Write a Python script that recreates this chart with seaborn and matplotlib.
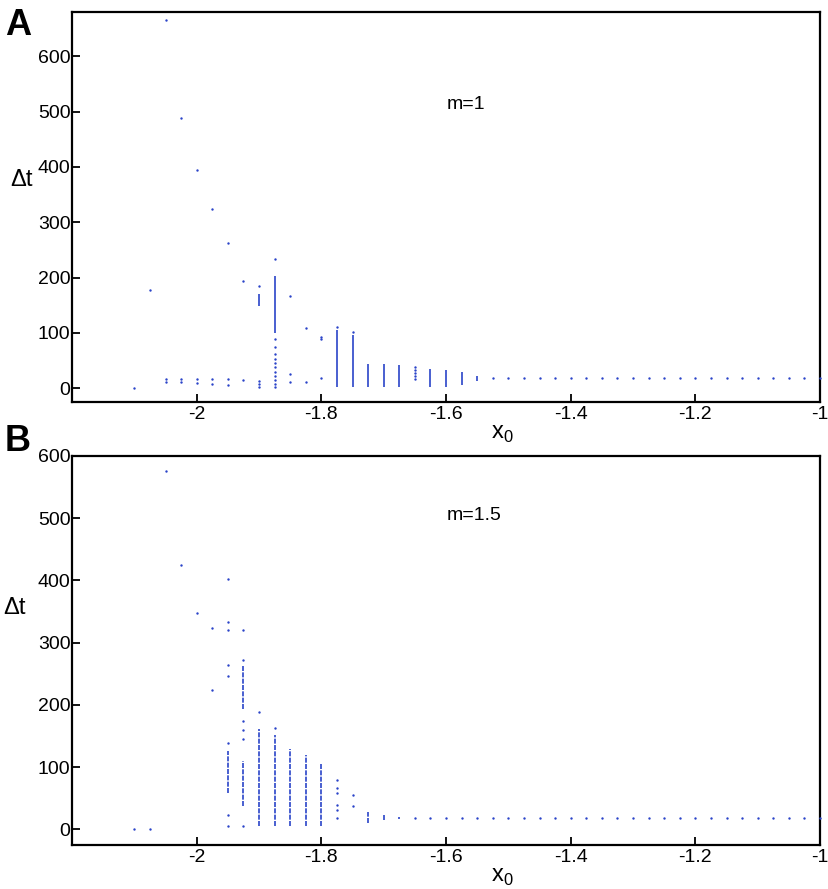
import numpy as np
import pandas as pd
import matplotlib
matplotlib.use("Agg")
import matplotlib.pyplot as plt
import seaborn as sns

# ---- panel A (m=1) ----
# isolated points
a_px = [-2.1, -2.075,
        -2.05, -2.05, -2.05,
        -2.025, -2.025, -2.025,
        -2.0, -2.0, -2.0,
        -1.975, -1.975, -1.975,
        -1.95, -1.95, -1.95,
        -1.925, -1.925,
        -1.9, -1.9, -1.9, -1.9,
        -1.875, -1.875, -1.875, -1.875, -1.875, -1.875, -1.875, -1.875, -1.875, -1.875, -1.875, -1.875,
        -1.85, -1.85, -1.85,
        -1.825, -1.825,
        -1.8, -1.8, -1.8,
        -1.775, -1.75,
        -1.65, -1.65, -1.65, -1.65, -1.65]
a_py = [0, 178,
        665, 17, 12,
        489, 17, 11,
        395, 17, 10,
        323, 16, 8,
        263, 17, 5,
        194, 15,
        185, 13, 8, 3,
        233, 88, 75, 61, 52, 45, 38, 30, 22, 15, 8, 3,
        166, 26, 12,
        109, 12,
        92, 88, 18,
        110, 101,
        38, 33, 28, 22, 17]
# dense columns (many points) given as ranges
a_seg_x = [-1.9, -1.875, -1.775, -1.75, -1.725, -1.7, -1.675, -1.625, -1.6, -1.575, -1.55]
a_seg_lo = [148, 100, 3, 3, 3, 3, 3, 3, 3, 5, 13]
a_seg_hi = [170, 202, 105, 97, 44, 43, 41, 35, 32, 30, 22]

# flat tail
a_tail_x = [-1.525, -1.5, -1.475, -1.45, -1.425, -1.4, -1.375, -1.35, -1.325, -1.3, -1.275,
            -1.25, -1.225, -1.2, -1.175, -1.15, -1.125, -1.1, -1.075, -1.05, -1.025, -1.0]
a_tail_y = [18, 18, 18, 18, 18, 18, 18, 18, 18, 18, 18,
            18, 18, 18, 18, 18, 18, 18, 18, 18, 18, 18]

# ---- panel B (m=1.5) ----
b_px = [-2.1, -2.075, -2.05, -2.025, -2.0,
        -1.975, -1.975,
        -1.95, -1.95, -1.95, -1.95, -1.95, -1.95, -1.95, -1.95,
        -1.925, -1.925, -1.925, -1.925, -1.925, -1.925,
        -1.9, -1.875,
        -1.775, -1.775, -1.775, -1.775, -1.775, -1.775,
        -1.75, -1.75]
b_py = [0, 0, 576, 425, 348,
        324, 224,
        403, 333, 320, 265, 247, 139, 24, 5,
        320, 273, 174, 159, 145, 6,
        188, 163,
        80, 66, 58, 39, 32, 18,
        56, 37]
b_seg_x = [-1.95, -1.925, -1.925, -1.9, -1.875, -1.85, -1.825, -1.8, -1.725, -1.7, -1.675]
b_seg_lo = [59, 193, 37, 5, 5, 5, 5, 5, 10, 15, 16]
b_seg_hi = [126, 262, 110, 161, 151, 130, 120, 107, 28, 24, 20]

b_tail_x = [-1.65, -1.625, -1.6, -1.575, -1.55,
            -1.525, -1.5, -1.475, -1.45, -1.425, -1.4, -1.375, -1.35, -1.325, -1.3, -1.275,
            -1.25, -1.225, -1.2, -1.175, -1.15, -1.125, -1.1, -1.075, -1.05, -1.025, -1.0]
b_tail_y = [18, 18, 18, 18, 18,
            18, 18, 18, 18, 18, 18, 18, 18, 18, 18, 18,
            18, 18, 18, 18, 18, 18, 18, 18, 18, 18, 18]

xticks = [-2.0, -1.8, -1.6, -1.4, -1.2, -1.0]
xtick_labels = ["-2", "-1.8", "-1.6", "-1.4", "-1.2", "-1"]
yticks = [0, 100, 200, 300, 400, 500, 600]

sns.set_style("ticks")
plt.rcParams["font.family"] = ["Liberation Sans", "DejaVu Sans"]
plt.rcParams["xtick.direction"] = "in"
plt.rcParams["ytick.direction"] = "in"
plt.rcParams["text.color"] = "black"
plt.rcParams["axes.labelcolor"] = "black"
plt.rcParams["xtick.color"] = "black"
plt.rcParams["ytick.color"] = "black"

blue = "#2a44c8"

fig = plt.figure(figsize=(8.29, 8.89), dpi=100)
axA = fig.add_axes([72 / 829, 1 - 402 / 889, 748 / 829, 390 / 889])
axB = fig.add_axes([72 / 829, 1 - 845 / 889, 748 / 829, 389 / 889])

panels = [
    (axA, a_px, a_py, a_seg_x, a_seg_lo, a_seg_hi, a_tail_x, a_tail_y, (-25, 680), "m=1",
     (0.527, 0.762), (-0.068, 0.54), "-"),
    (axB, b_px, b_py, b_seg_x, b_seg_lo, b_seg_hi, b_tail_x, b_tail_y, (-25, 600), "m=1.5",
     (0.537, 0.846), (-0.077, 0.58), (0, (3.0, 0.8))),
]

for ax, px, py, sx, slo, shi, tx, ty, ylim, mlabel, mpos, dtpos, ls in panels:
    pts = pd.DataFrame({"x": px + tx, "y": py + ty})
    sns.scatterplot(data=pts, x="x", y="y", ax=ax, s=3, marker="o",
                    color=blue, linewidth=0, legend=False, clip_on=False, zorder=3)
    ax.vlines(sx, slo, shi, colors=blue, linewidth=1.2, linestyles=ls)
    ax.set_xlim(-2.2, -1.0)
    ax.set_ylim(*ylim)
    ax.set_xticks(xticks)
    ax.set_xticklabels(xtick_labels)
    ax.set_yticks(yticks)
    ax.tick_params(axis="both", length=6, width=1.3, labelsize=14)
    ax.tick_params(axis="x", pad=3)
    ax.tick_params(axis="y", pad=1)
    for sp in ax.spines.values():
        sp.set_visible(True)
        sp.set_linewidth(1.6)
        sp.set_color("black")
        sp.set_zorder(2)
    ax.set_xlabel("x$_\\mathregular{0}$", fontsize=17)
    ax.xaxis.set_label_coords(0.575, -0.055)
    ax.set_ylabel("\u0394t", fontsize=17, rotation=0)
    ax.yaxis.set_label_coords(*dtpos)
    ax.text(mpos[0], mpos[1], mlabel, transform=ax.transAxes, fontsize=14,
            ha="center", va="center")

fig.text(5 / 829, 1 - 8 / 889, "A", fontsize=26, fontweight="bold", va="top", ha="left")
fig.text(5 / 829, 1 - 424 / 889, "B", fontsize=26, fontweight="bold", va="top", ha="left")

fig.savefig("out.png", dpi=100)
